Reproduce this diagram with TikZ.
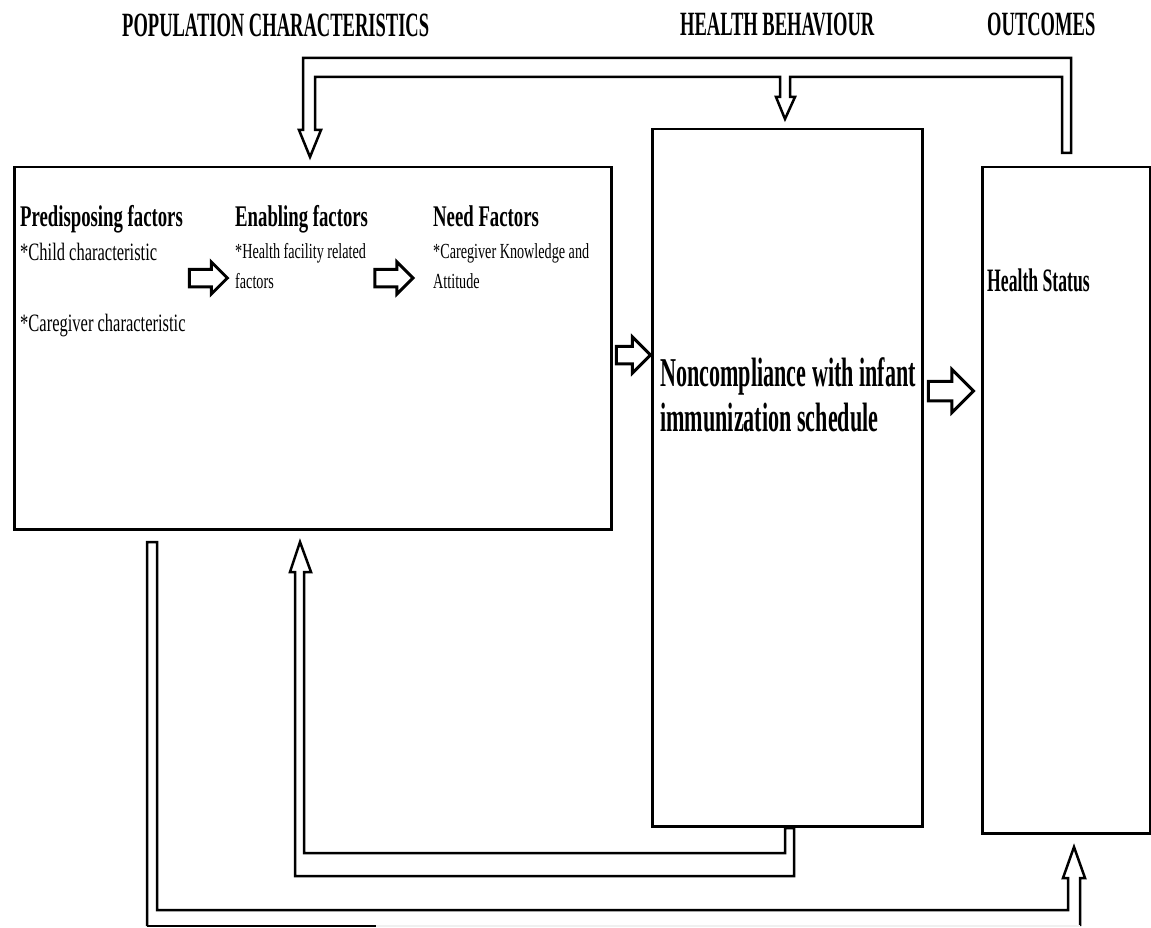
\documentclass[tikz,border=0pt]{standalone}
\usepackage{fontspec}
\setmainfont{Liberation Serif}
\newfontfamily\hdrfont{Liberation Serif}[FakeStretch=0.545]
\newfontfamily\ttlfont{Liberation Serif}[FakeStretch=0.625]
\newfontfamily\noncfont{Liberation Serif}[FakeStretch=0.54]
\newfontfamily\txtfont{Liberation Serif}[FakeStretch=0.66]
\usetikzlibrary{positioning,shapes.arrows}

\tikzset{
  box/.style={draw, line width=2.5pt, inner sep=0pt, anchor=north west},
  hdr/.style={anchor=base west, inner sep=0pt, font=\hdrfont\bfseries\fontsize{34}{40}\selectfont},
  ttl/.style={anchor=base west, inner sep=0pt, font=\ttlfont\bfseries\fontsize{30}{36}\selectfont},
  txt/.style={anchor=base west, inner sep=0pt, align=left, font=\txtfont\fontsize{25}{30}\selectfont},
  note/.style={anchor=base west, inner sep=0pt, align=left, font=\txtfont\fontsize{21.5}{30}\selectfont},
  blk/.style={single arrow, draw, line width=3pt, fill=white, inner xsep=0pt,
    inner ysep=7.25pt, minimum height=38pt, minimum width=29pt, single arrow head extend=7.25pt},
  loopline/.style={line width=2.5pt}
}

\begin{document}
\begin{tikzpicture}[x=1pt, y=-1pt]
  \useasboundingbox (0,0) rectangle (1151,928);

  % column headings
  \node[hdr] (hpop) at (122,37) {POPULATION CHARACTERISTICS};
  \node[hdr] (hbeh) at (680,36) {HEALTH BEHAVIOUR};
  \node[hdr] (hout) at (987,36) {OUTCOMES};

  % the three boxes
  \node[box, minimum width=597pt, minimum height=362pt] (pop) at (13,166) {};
  \node[box, minimum width=270pt, minimum height=697pt] (beh) at (651,128) {};
  \node[box, minimum width=168pt, minimum height=666pt] (out) at (981,166) {};

  % population characteristics (multi-line texts sit on their last line)
  \node[ttl] (pred) at (20,226) {Predisposing factors};
  \node[txt] (child) at (20,260) {*Child characteristic};
  \node[txt] (care) at (20,331) {*Caregiver characteristic};
  \node[ttl] (enab) at (235,226) {Enabling factors};
  \node[note] (hfac) at (235,288) {*Health facility related\\factors};
  \node[ttl] (need) at (433,226) {Need Factors};
  \node[note] (cka) at (433,288) {*Caregiver Knowledge and\\Attitude};
  \node[blk] (a1) at (204,278) {};
  \node[blk] (a2) at (389.5,278) {};

  % behaviour and outcome
  \node[anchor=base west, inner sep=0pt, align=left,
    font=\noncfont\bfseries\fontsize{41}{45}\selectfont] (nonc) at (660,431)
    {Noncompliance with infant\\immunization schedule};
  \node[anchor=base west, inner sep=0pt,
    font=\noncfont\bfseries\fontsize{32.7}{38}\selectfont] (hstat) at (987,291) {Health Status};
  \node[blk, minimum height=34pt, minimum width=33pt, single arrow head extend=9.25pt] (a3) at (629,355) {};
  \node[blk, minimum height=45pt, minimum width=40pt, inner ysep=8.25pt,
    single arrow head extend=11.75pt] (a4) at (946,391) {};

  % feedback from outcomes
  \draw[loopline] (1062,153) -- (1071,153) -- (1071,58) -- (303,58) -- (303,130)
    -- (299,130) -- (310,157) -- (321,130) -- (315,130) -- (315,77) -- (780,77)
    -- (780,97) -- (776,97) -- (785,119) -- (795,97) -- (790,97) -- (790,77)
    -- (1062,77) -- cycle;
  % feedback from behaviour
  \draw[loopline] (785,828) -- (794,828) -- (794,876) -- (295,876) -- (295,572)
    -- (290,572) -- (300,542) -- (311,572) -- (304,572) -- (304,853) -- (785,853)
    -- cycle;
  % population to outcomes
  \draw[loopline] (1080,926) -- (1080,878) -- (1085,878) -- (1074,847) -- (1063,878)
    -- (1068,878) -- (1068,910) -- (157,910) -- (157,542) -- (147,542) -- (147,926);
  \draw[loopline] (147,926) -- (376,926);
  \draw[loopline, gray!12] (376,926) -- (1080,926);
\end{tikzpicture}
\end{document}
